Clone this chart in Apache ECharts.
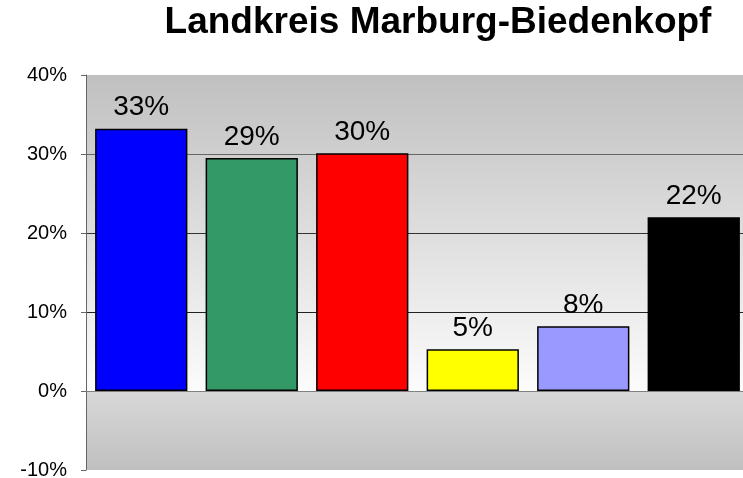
<!DOCTYPE html>
<html>
<head>
<meta charset="utf-8">
<script src="https://cdn.jsdelivr.net/npm/echarts@6/dist/echarts.min.js"></script>
<style>
  html, body { margin: 0; padding: 0; background: #fff; }
  #chart { width: 743px; height: 478px; }
</style>
</head>
<body>
<div id="chart"></div>
<script>
var categories = ['A', 'B', 'C', 'D', 'E', 'F'];
var values = [33.2, 29.5, 30.1, 5.3, 8.2, 22.0];
var valueLabels = ['33%', '29%', '30%', '5%', '8%', '22%'];
var barColors = ['#0000FF', '#339966', '#FF0000', '#FFFF00', '#9999FF', '#000000'];

var myChart = echarts.init(document.getElementById('chart'));
var option = {
  animation: false,
  title: {
    text: 'Landkreis Marburg-Biedenkopf',
    left: 433,
    textAlign: 'center',
    top: -1,
    textStyle: {
      fontFamily: 'Liberation Sans',
      fontSize: 37,
      fontWeight: 'bold',
      color: '#000'
    }
  },
  grid: {
    left: 86,
    right: -6,
    top: 75,
    bottom: 8,
    outerBoundsMode: 'none',
    show: true,
    borderWidth: 0,
    backgroundColor: {
      type: 'linear',
      x: 0, y: 0, x2: 0, y2: 1,
      colorStops: [
        { offset: 0, color: '#c0c0c0' },
        { offset: 0.8, color: '#fcfcfc' },
        { offset: 0.8, color: '#d8d8d8' },
        { offset: 1, color: '#c0c0c0' }
      ]
    }
  },
  xAxis: {
    type: 'category',
    data: categories,
    axisLine: { lineStyle: { color: '#808080', width: 1 } },
    axisTick: { lineStyle: { color: '#555' }, length: 5 },
    axisLabel: { show: false }
  },
  yAxis: {
    type: 'value',
    min: -10,
    max: 40,
    interval: 10,
    axisLine: { show: true, lineStyle: { color: '#666' } },
    axisTick: { show: true, length: 5, lineStyle: { color: '#666' } },
    axisLabel: {
      formatter: '{value}%',
      fontFamily: 'Liberation Sans',
      fontSize: 20,
      color: '#000',
      margin: 19
    },
    splitLine: {
      show: true,
      lineStyle: {
        color: ['transparent', 'transparent', '#222', '#333', '#666', 'transparent'],
        width: 1
      }
    }
  },
  series: [
    {
      type: 'bar',
      barCategoryGap: '16.5%',
      data: values.map(function (v, i) {
        return { value: v, itemStyle: { color: barColors[i] } };
      }),
      itemStyle: { borderColor: '#000', borderWidth: 1.5 },
      label: {
        show: true,
        position: 'top',
        distance: 7,
        fontFamily: 'Liberation Sans',
        fontSize: 28,
        color: '#000',
        formatter: function (p) { return valueLabels[p.dataIndex]; }
      }
    }
  ]
};
option && myChart.setOption(option);
</script>
</body>
</html>
